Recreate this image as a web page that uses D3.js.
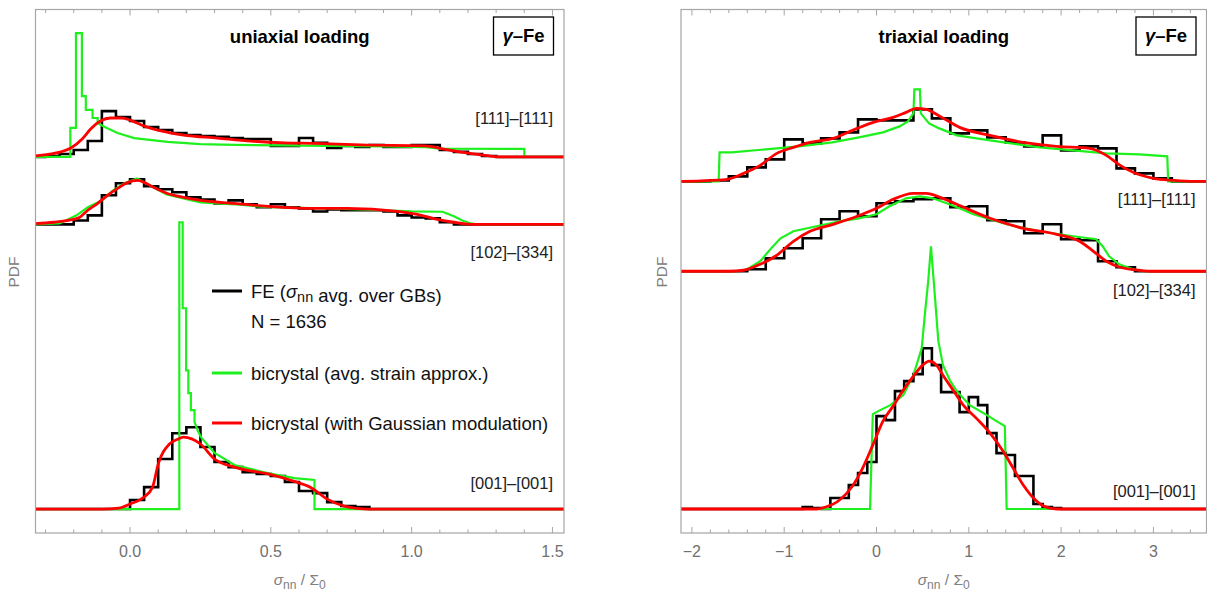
<!DOCTYPE html>
<html lang="en">
<head>
<meta charset="UTF-8" />
<title>PDF of GB normal stress, γ-Fe</title>
<script src="https://d3js.org/d3.v7.min.js"></script>
<style>
  body { margin: 0; background: #fff; }
  svg { display: block; font-family: "Liberation Sans", Arial, sans-serif; }
  .tick-label { fill: #707070; font-size: 16px; }
  .axis-title { fill: #808080; font-size: 15.5px; }
  .orient { fill: #222; font-size: 16.5px; }
  .legend { fill: #111; font-size: 18.5px; }
  .title { font-size: 18.5px; font-weight: bold; }
</style>
</head>
<body>
<div id="chart"></div>

<script>
// ---- uniaxial loading: FE histograms (bin heights, PDF) ----
const uniBinWidth = 0.05;
const uniFE111Start = -0.30;
const uniFE111 = [0.03,0.10,0.23,0.53,1.53,1.33,1.20,1.00,0.90,0.80,0.73,0.70,0.67,0.63,0.60,0.60,0.37,0.37,0.63,0.47,0.30,0.37,0.33,0.40,0.33,0.33,0.40,0.40,0.23,0.17,0.10,0.03];
const uniFE102Start = -0.20;
const uniFE102 = [0.13,0.30,0.97,1.37,1.50,1.27,1.17,1.07,0.90,0.83,0.70,0.80,0.67,0.57,0.67,0.57,0.53,0.43,0.50,0.47,0.47,0.47,0.43,0.30,0.23,0.20,0.07];
const uniFE001Start = 0.00;
const uniFE001 = [0.30,0.73,1.67,2.53,2.73,2.07,1.57,1.40,1.23,1.17,1.10,0.90,0.60,0.53,0.23,0.10,0.07];

// bicrystal, avg. strain approx. (green)
const uniGreen111X = [-0.34,-0.212,-0.212,-0.192,-0.192,-0.171,-0.171,-0.157,-0.157,-0.133,-0.133,-0.115,-0.115,-0.09,-0.044,0.015,0.133,0.25,0.37,0.6,0.9,1.05,1.1,1.40,1.40,1.55];
const uniGreen111Y = [0,0,0.97,0.97,4.13,4.13,2.03,2.03,1.57,1.57,1.30,1.30,1.13,1.00,0.80,0.63,0.50,0.43,0.40,0.38,0.35,0.33,0.28,0.27,0,0];
const uniGreen102X = [-0.34,-0.25,-0.19,-0.15,-0.1,-0.06,-0.02,0.025,0.07,0.13,0.25,0.37,0.49,0.7,0.9,1.0,1.11,1.15,1.18,1.21,1.23,1.55];
const uniGreen102Y = [0,0.03,0.30,0.57,0.80,1.13,1.37,1.53,1.30,1.00,0.73,0.67,0.57,0.53,0.47,0.43,0.42,0.27,0.13,0.03,0,0];
const uniGreen001X = [-0.34,0.175,0.175,0.187,0.187,0.199,0.199,0.207,0.207,0.216,0.216,0.229,0.229,0.24,0.252,0.30,0.371,0.488,0.584,0.655,0.655,1.55];
const uniGreen001Y = [0,0,9.57,9.57,6.70,6.70,4.63,4.63,3.87,3.87,3.30,3.30,2.90,2.63,2.40,1.87,1.47,1.20,1.03,0.97,0,0];

// bicrystal, with Gaussian modulation (red)
const uniRed111X = [-0.34,-0.28,-0.245,-0.21,-0.17,-0.14,-0.105,-0.07,-0.03,0.0,0.05,0.11,0.19,0.31,0.43,0.55,0.66,0.82,1.05,1.11,1.17,1.22,1.28,1.34,1.55];
const uniRed111Y = [0.03,0.10,0.17,0.30,0.60,0.93,1.20,1.30,1.30,1.23,1.03,0.87,0.73,0.63,0.53,0.47,0.45,0.40,0.37,0.27,0.17,0.10,0.03,0,0];
const uniRed102X = [-0.34,-0.27,-0.22,-0.18,-0.15,-0.115,-0.08,-0.044,-0.008,0.027,0.05,0.085,0.133,0.19,0.25,0.37,0.49,0.655,0.77,0.95,1.02,1.09,1.15,1.21,1.55];
const uniRed102Y = [0.02,0.07,0.13,0.23,0.47,0.70,0.97,1.20,1.40,1.47,1.40,1.23,1.03,0.90,0.80,0.70,0.60,0.53,0.53,0.43,0.33,0.17,0.07,0,0];
const uniRed001X = [-0.34,-0.1,-0.04,0.0,0.05,0.08,0.10,0.14,0.17,0.19,0.25,0.30,0.37,0.49,0.58,0.64,0.70,0.76,0.84,1.55];
const uniRed001Y = [0,0,0.03,0.17,0.40,0.73,1.50,2.17,2.33,2.40,2.17,1.67,1.40,1.17,0.93,0.73,0.33,0.10,0,0];

// ---- triaxial loading ----
const triFE111Start = -1.8, triFE111Width = 0.2;
const triFE111 = [0.005,0.025,0.07,0.11,0.21,0.19,0.215,0.245,0.31,0.305,0.305,0.36,0.315,0.24,0.255,0.22,0.195,0.175,0.23,0.155,0.175,0.165,0.065,0.04,0.015];
const triFE102Start = -1.4, triFE102Width = 0.2;
const triFE102 = [0.01,0.065,0.115,0.165,0.26,0.30,0.275,0.34,0.35,0.36,0.365,0.32,0.325,0.255,0.25,0.19,0.235,0.16,0.155,0.05,0.02];
const triFE001Start = -0.8, triFE001Width = 0.1;
const triFE001 = [0.01,0.005,0,0.055,0.055,0.12,0.18,0.235,0.465,0.445,0.59,0.64,0.675,0.805,0.72,0.585,0.585,0.485,0.56,0.52,0.38,0.28,0.27,0.165,0.165,0.025,0.01,0.005];

const triGreen111X = [-2.13,-1.71,-1.70,-1.57,-1.2,-0.84,-0.48,-0.19,0.07,0.25,0.34,0.40,0.41,0.47,0.48,0.57,0.68,0.87,1.23,1.77,2.13,2.49,2.85,3.15,3.16,3.6];
const triGreen111Y = [0,0,0.145,0.145,0.16,0.175,0.195,0.22,0.245,0.275,0.30,0.34,0.46,0.46,0.34,0.29,0.265,0.23,0.205,0.17,0.155,0.14,0.135,0.125,0,0];
const triGreen102X = [-2.13,-1.5,-1.4,-1.26,-1.15,-1.04,-0.9,-0.65,-0.4,-0.19,0.0,0.14,0.32,0.47,0.61,0.76,0.9,1.05,1.41,1.77,2.13,2.38,2.45,2.52,2.63,2.78,2.9,3.6];
const triGreen102Y = [0,0,0.01,0.05,0.11,0.165,0.20,0.225,0.25,0.265,0.285,0.325,0.365,0.375,0.365,0.34,0.315,0.285,0.235,0.20,0.175,0.16,0.125,0.075,0.035,0.01,0,0];
const triGreen001X = [-2.13,-0.07,-0.04,0.04,0.15,0.29,0.40,0.49,0.52,0.56,0.59,0.62,0.67,0.72,0.80,0.87,1.01,1.16,1.30,1.39,1.41,3.6];
const triGreen001Y = [0,0,0.475,0.495,0.52,0.57,0.67,0.805,0.955,1.14,1.315,1.14,0.84,0.72,0.64,0.59,0.52,0.48,0.44,0.415,0,0];

const triRed111X = [-2.13,-1.9,-1.62,-1.44,-1.26,-1.08,-0.9,-0.72,-0.47,-0.21,0.0,0.18,0.32,0.43,0.54,0.69,0.9,1.23,1.59,1.95,2.31,2.49,2.64,2.78,3.0,3.22,3.44,3.6];
const triRed111Y = [0,0.0025,0.01,0.04,0.08,0.14,0.17,0.195,0.215,0.265,0.30,0.32,0.345,0.365,0.36,0.325,0.27,0.23,0.195,0.175,0.165,0.13,0.08,0.045,0.015,0.005,0,0];
const triRed102X = [-2.13,-1.6,-1.44,-1.26,-1.08,-0.9,-0.72,-0.47,-0.21,0.0,0.18,0.4,0.54,0.69,0.87,1.23,1.59,1.95,2.2,2.35,2.49,2.64,2.85,3.0,3.6];
const triRed102Y = [0,0,0.005,0.035,0.08,0.15,0.20,0.235,0.275,0.315,0.36,0.39,0.39,0.37,0.335,0.265,0.215,0.185,0.15,0.10,0.05,0.02,0.005,0,0];
const triRed001X = [-2.13,-0.65,-0.55,-0.4,-0.26,-0.15,-0.04,0.07,0.18,0.29,0.4,0.5,0.57,0.65,0.72,0.83,0.94,1.08,1.23,1.37,1.48,1.59,1.7,1.81,1.95,3.6];
const triRed001Y = [0,0,0.01,0.045,0.115,0.205,0.32,0.44,0.515,0.595,0.665,0.72,0.74,0.72,0.67,0.595,0.52,0.455,0.38,0.29,0.205,0.12,0.055,0.015,0,0];

// vertical shifts of the stacked curves, orientation labels, ticks
const uniOffsets = [11.75, 9.5, 0];
const triOffsets = [1.64, 1.19, 0];
const orientLabels = ["[111]–[111]", "[102]–[334]", "[001]–[001]"];
const uniTicks = [0, 0.5, 1, 1.5];
const uniTickLabels = ["0.0", "0.5", "1.0", "1.5"];
const triTicks = [-2, -1, 0, 1, 2, 3];
const triTickLabels = ["−2", "−1", "0", "1", "2", "3"];
const legendLabels = ["FE", "N = 1636", "bicrystal (avg. strain approx.)", "bicrystal (with Gaussian modulation)"];

const zip = (xs, ys) => xs.map((v, i) => [v, ys[i]]);

const W = 1207, H = 595;
const svg = d3.select("#chart").append("svg")
  .attr("width", W).attr("height", H)
  .attr("viewBox", [0, 0, W, H]);

const panels = [
  {
    id: "uni", title: "uniaxial loading",
    left: 35.5, right: 564, top: 9.5, bottom: 533,
    xDomain: [-0.3357, 1.541], yDomain: [-0.8, 16.67],
    ticks: uniTicks, tickLabels: uniTickLabels, minorStep: 0.1,
    pdfX: 14, labelYs: [118, 252, 483],
    series: [
      { offset: uniOffsets[0], feStart: uniFE111Start, feWidth: uniBinWidth, fe: uniFE111,
        green: zip(uniGreen111X, uniGreen111Y), red: zip(uniRed111X, uniRed111Y) },
      { offset: uniOffsets[1], feStart: uniFE102Start, feWidth: uniBinWidth, fe: uniFE102,
        green: zip(uniGreen102X, uniGreen102Y), red: zip(uniRed102X, uniRed102Y) },
      { offset: uniOffsets[2], feStart: uniFE001Start, feWidth: uniBinWidth, fe: uniFE001,
        green: zip(uniGreen001X, uniGreen001Y), red: zip(uniRed001X, uniRed001Y) }
    ]
  },
  {
    id: "tri", title: "triaxial loading",
    left: 681, right: 1206.5, top: 9.5, bottom: 533,
    xDomain: [-2.118, 3.575], yDomain: [-0.12, 2.5],
    ticks: triTicks, tickLabels: triTickLabels, minorStep: 0.2,
    pdfX: 662, labelYs: [199, 290, 491],
    series: [
      { offset: triOffsets[0], feStart: triFE111Start, feWidth: triFE111Width, fe: triFE111,
        green: zip(triGreen111X, triGreen111Y), red: zip(triRed111X, triRed111Y) },
      { offset: triOffsets[1], feStart: triFE102Start, feWidth: triFE102Width, fe: triFE102,
        green: zip(triGreen102X, triGreen102Y), red: zip(triRed102X, triRed102Y) },
      { offset: triOffsets[2], feStart: triFE001Start, feWidth: triFE001Width, fe: triFE001,
        green: zip(triGreen001X, triGreen001Y), red: zip(triRed001X, triRed001Y) }
    ]
  }
];

function sigmaLabel(sel, sub0) {
  // σ_nn / Σ_0
  sel.append("tspan").attr("font-style", "italic").text("σ");
  sel.append("tspan").attr("dy", 4).attr("font-size", "0.78em").text("nn");
  sel.append("tspan").attr("dy", -4).text(sub0 ? " / Σ" : "");
  if (sub0) sel.append("tspan").attr("dy", 4).attr("font-size", "0.78em").text("0");
}

panels.forEach(p => {
  const x = d3.scaleLinear().domain(p.xDomain).range([p.left, p.right]);
  const y = d3.scaleLinear().domain(p.yDomain).range([p.bottom, p.top]);
  const g = svg.append("g");

  svg.append("clipPath").attr("id", "clip-" + p.id)
    .append("rect")
    .attr("x", p.left).attr("y", p.top)
    .attr("width", p.right - p.left).attr("height", p.bottom - p.top);

  const plot = g.append("g").attr("clip-path", `url(#clip-${p.id})`);
  const line = d3.line().x(d => x(d[0])).y(d => y(d[1]));
  const smooth = d3.line().x(d => x(d[0])).y(d => y(d[1])).curve(d3.curveMonotoneX);

  p.series.forEach(s => {
    // FE histogram as a step outline
    const pts = [[p.xDomain[0] - 1, 0], [s.feStart, 0]];
    s.fe.forEach((h, i) => {
      const a = s.feStart + i * s.feWidth;
      pts.push([a, h], [a + s.feWidth, h]);
    });
    pts.push([s.feStart + s.fe.length * s.feWidth, 0], [p.xDomain[1] + 1, 0]);
    const shift = d => [d[0], d[1] + s.offset];

    plot.append("path")
      .attr("d", line(pts.map(shift)))
      .attr("fill", "none").attr("stroke", "#000").attr("stroke-width", 2.6)
      .attr("stroke-linejoin", "miter");
    plot.append("path")
      .attr("d", line(s.green.map(shift)))
      .attr("fill", "none").attr("stroke", "#1ef01e").attr("stroke-width", 2.2);
    plot.append("path")
      .attr("d", smooth(s.red.map(shift)))
      .attr("fill", "none").attr("stroke", "#ff0000").attr("stroke-width", 2.8);
  });

  // frame
  g.append("rect")
    .attr("x", p.left).attr("y", p.top)
    .attr("width", p.right - p.left).attr("height", p.bottom - p.top)
    .attr("fill", "none").attr("stroke", "#a6a6a6").attr("stroke-width", 1.2);

  // ticks (inward, bottom and top)
  const minor = d3.range(Math.ceil(p.xDomain[0] / p.minorStep) * p.minorStep, p.xDomain[1], p.minorStep)
    .filter(v => !p.ticks.some(t => Math.abs(t - v) < 1e-6));
  const tickG = g.append("g").attr("stroke", "#a6a6a6").attr("stroke-width", 1);
  [[p.ticks, 6], [minor, 3.5]].forEach(([vals, len]) => {
    vals.forEach(v => {
      tickG.append("line").attr("x1", x(v)).attr("x2", x(v))
        .attr("y1", p.bottom).attr("y2", p.bottom - len);
      tickG.append("line").attr("x1", x(v)).attr("x2", x(v))
        .attr("y1", p.top).attr("y2", p.top + len);
    });
  });
  p.ticks.forEach((v, i) => {
    g.append("text").attr("class", "tick-label")
      .attr("x", x(v)).attr("y", 557)
      .attr("text-anchor", "middle")
      .text(p.tickLabels[i]);
  });

  // axis titles
  const xt = g.append("text").attr("class", "axis-title")
    .attr("x", (p.left + p.right) / 2).attr("y", 585)
    .attr("text-anchor", "middle");
  sigmaLabel(xt, true);
  g.append("text").attr("class", "axis-title")
    .attr("transform", `translate(${p.pdfX + 5},272) rotate(-90)`)
    .attr("text-anchor", "middle")
    .text("PDF");

  // title and material box
  g.append("text").attr("class", "title")
    .attr("x", (p.left + p.right) / 2).attr("y", 43)
    .attr("text-anchor", "middle").text(p.title);
  const bx = p.right - 70.5;
  g.append("rect").attr("x", bx).attr("y", 17).attr("width", 60).attr("height", 38)
    .attr("fill", "#fff").attr("stroke", "#000").attr("stroke-width", 1.3);
  const mat = g.append("text").attr("class", "title")
    .attr("x", bx + 30).attr("y", 42).attr("text-anchor", "middle");
  mat.append("tspan").attr("font-style", "italic").text("γ");
  mat.append("tspan").text("–Fe");

  // orientation labels
  p.series.forEach((s, i) => {
    g.append("text").attr("class", "orient")
      .attr("x", p.right - 11).attr("y", p.labelYs[i] + 6)
      .attr("text-anchor", "end")
      .text(orientLabels[i]);
  });
});

// legend (inside the uniaxial panel)
const legend = svg.append("g");
const legendRows = [
  { y: 291, color: "#000" },
  { y: 321, color: null },
  { y: 373, color: "#1ef01e" },
  { y: 423, color: "#ff0000" }
];
legendRows.forEach((r, i) => {
  if (r.color) {
    legend.append("line").attr("x1", 212).attr("x2", 242)
      .attr("y1", r.y).attr("y2", r.y)
      .attr("stroke", r.color).attr("stroke-width", 3);
  }
  const t = legend.append("text").attr("class", "legend")
    .attr("x", 251).attr("y", r.y + 6.5);
  if (i === 0) {
    t.append("tspan").text(legendLabels[0] + " (");
    sigmaLabel(t, false);
    t.append("tspan").text(" avg. over GBs)");
  } else {
    t.text(legendLabels[i]);
  }
});
</script>
</body>
</html>
